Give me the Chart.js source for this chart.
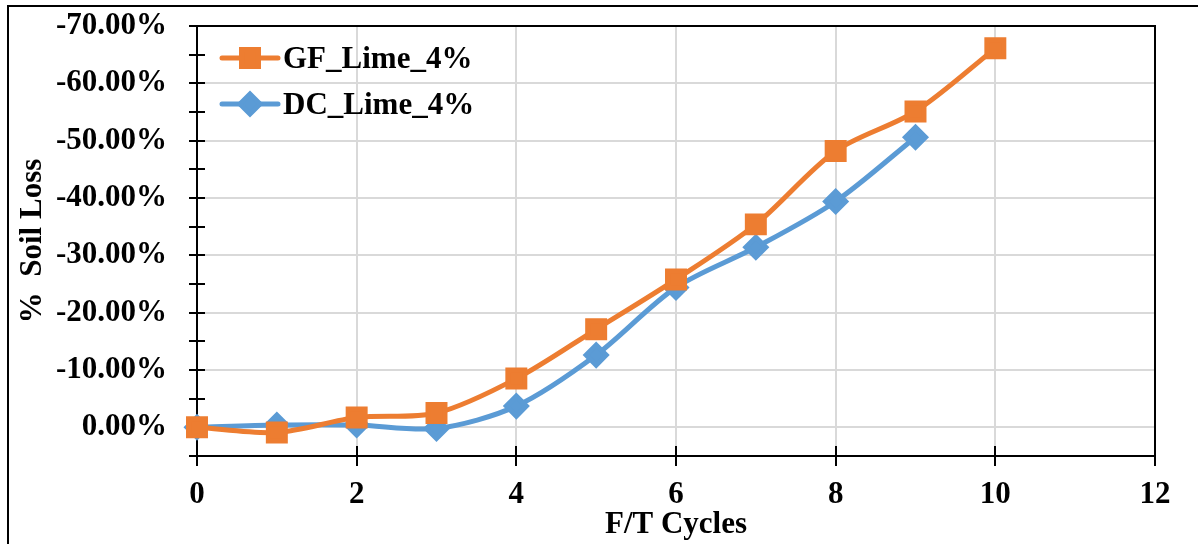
<!DOCTYPE html>
<html>
<head>
<meta charset="utf-8">
<script src="https://cdn.jsdelivr.net/npm/chart.js@4.4.0/dist/chart.umd.min.js"></script>
<style>
  body { margin: 0; background: #fff; }
  canvas { display: block; }
</style>
</head>
<body>
<canvas id="soil-loss" width="1198" height="544"></canvas>
<script>
// F/T cycles and soil loss (%)
var cycles = [0, 1, 2, 3, 4, 5, 6, 7, 8, 9, 10];
var gfLoss = [0, 0.9, -1.7, -2.5, -8.5, -17.1, -25.8, -35.4, -48.2, -55.1, -66.1];
var dcLoss = [0, -0.4, -0.4, 0.2, -3.7, -12.6, -24.4, -31.4, -39.4, -50.6];
var seriesNames = ['GF_Lime_4%', 'DC_Lime_4%'];
var xTicks = [0, 2, 4, 6, 8, 10, 12];

var font = { family: "'Liberation Serif', 'Times New Roman', serif", size: 31, weight: 'bold' };
var gridGray = '#d9d9d9';

function toPoints(vals) {
  return vals.map(function (v, i) { return { x: cycles[i], y: v }; });
}

// outer box of the figure (top + left edges only, rest is cropped)
var outerFrame = {
  id: 'outerFrame',
  beforeDraw: function (chart) {
    var ctx = chart.ctx;
    ctx.save();
    ctx.fillStyle = '#fff';
    ctx.fillRect(0, 0, chart.width, chart.height);
    ctx.strokeStyle = '#000';
    ctx.lineWidth = 2;
    ctx.beginPath();
    ctx.moveTo(8, chart.height);
    ctx.lineTo(8, 6);
    ctx.lineTo(chart.width, 6);
    ctx.stroke();
    ctx.restore();
  }
};

// plot box top/right edges and the crossing tick marks
var plotFrame = {
  id: 'plotFrame',
  beforeDatasetsDraw: function (chart) {
    var ctx = chart.ctx, a = chart.chartArea;
    var xs = chart.scales.x, ys = chart.scales.y;
    ctx.save();
    ctx.strokeStyle = '#000';
    ctx.lineWidth = 2;
    ctx.beginPath();
    ctx.moveTo(a.left, a.top);
    ctx.lineTo(a.right, a.top);
    ctx.lineTo(a.right, a.bottom);
    ctx.stroke();
    ctx.beginPath();
    for (var v = -70; v <= 5; v += 5) {
      var py = Math.round(ys.getPixelForValue(v));
      ctx.moveTo(a.left - 8, py);
      ctx.lineTo(a.left + 8, py);
    }
    xTicks.forEach(function (t) {
      var px = Math.round(xs.getPixelForValue(t));
      ctx.moveTo(px, a.bottom - 10);
      ctx.lineTo(px, a.bottom + 10);
    });
    ctx.stroke();
    ctx.restore();
  }
};

// Excel-like legend: line with marker, inside the plot
var lineLegend = {
  id: 'lineLegend',
  afterDraw: function (chart) {
    var ctx = chart.ctx, a = chart.chartArea;
    ctx.save();
    chart.data.datasets.forEach(function (ds, i) {
      var y = 58 + i * 46;
      var x0 = a.left + 25, x1 = a.left + 81;
      ctx.strokeStyle = ds.borderColor;
      ctx.lineWidth = 5;
      ctx.lineCap = 'round';
      ctx.beginPath();
      ctx.moveTo(x0, y);
      ctx.lineTo(x1, y);
      ctx.stroke();
      ctx.fillStyle = ds.pointBackgroundColor;
      ctx.strokeStyle = ds.pointBackgroundColor;
      Chart.helpers.drawPoint(ctx, { pointStyle: ds.pointStyle, radius: ds.pointRadius, borderWidth: 1, rotation: 0 }, (x0 + x1) / 2, y);
      ctx.fillStyle = '#000';
      ctx.font = 'bold 31px "Liberation Serif", serif';
      ctx.textBaseline = 'middle';
      ctx.fillText(ds.label, x1 + 5, y + 2);
    });
    ctx.restore();
  }
};

new Chart(document.getElementById('soil-loss'), {
  type: 'line',
  data: {
    datasets: [{
      label: seriesNames[0],
      data: toPoints(gfLoss),
      borderColor: '#ED7D31',
      backgroundColor: '#ED7D31',
      pointBackgroundColor: '#ED7D31',
      pointBorderColor: '#ED7D31',
      pointStyle: 'rect',
      pointRadius: 12,
      borderWidth: 5,
      tension: 0.3,
      clip: false
    }, {
      label: seriesNames[1],
      data: toPoints(dcLoss),
      borderColor: '#5B9BD5',
      backgroundColor: '#5B9BD5',
      pointBackgroundColor: '#5B9BD5',
      pointBorderColor: '#5B9BD5',
      pointStyle: 'rectRot',
      pointRadius: 10,
      borderWidth: 5,
      tension: 0.3,
      clip: false
    }]
  },
  options: {
    responsive: false,
    animation: false,
    layout: { padding: { left: 0, top: 26, right: 43, bottom: 0 } },
    plugins: {
      legend: { display: false },
      tooltip: { enabled: false }
    },
    scales: {
      x: {
        type: 'linear',
        min: 0,
        max: 12,
        afterFit: function (s) { s.height = 88; },
        afterBuildTicks: function (s) { s.ticks = xTicks.map(function (v) { return { value: v }; }); },
        ticks: { color: '#000', font: font, padding: 20, maxRotation: 0 },
        grid: { color: gridGray, lineWidth: 2, drawTicks: false },
        border: { color: '#000', width: 2 },
        title: { display: true, text: 'F/T Cycles', color: '#000', font: font, padding: { top: 0, bottom: 0 } }
      },
      y: {
        reverse: true,
        min: -70,
        max: 5,
        afterFit: function (s) { s.width = 197; s.paddingTop = 0; s.paddingBottom = 0; },
        ticks: {
          stepSize: 10,
          color: '#000',
          font: font,
          padding: 30,
          callback: function (v) { return v > 0 ? '' : v.toFixed(2) + '%'; }
        },
        grid: {
          color: function (c) { return c.tick && c.tick.value > 0 ? 'rgba(0,0,0,0)' : gridGray; },
          lineWidth: 2,
          drawTicks: false
        },
        border: { color: '#000', width: 2 },
        title: { display: true, text: '%  Soil Loss', color: '#000', font: font, padding: { top: 14, bottom: 0 } }
      }
    }
  },
  plugins: [outerFrame, plotFrame, lineLegend]
});
</script>
</body>
</html>
